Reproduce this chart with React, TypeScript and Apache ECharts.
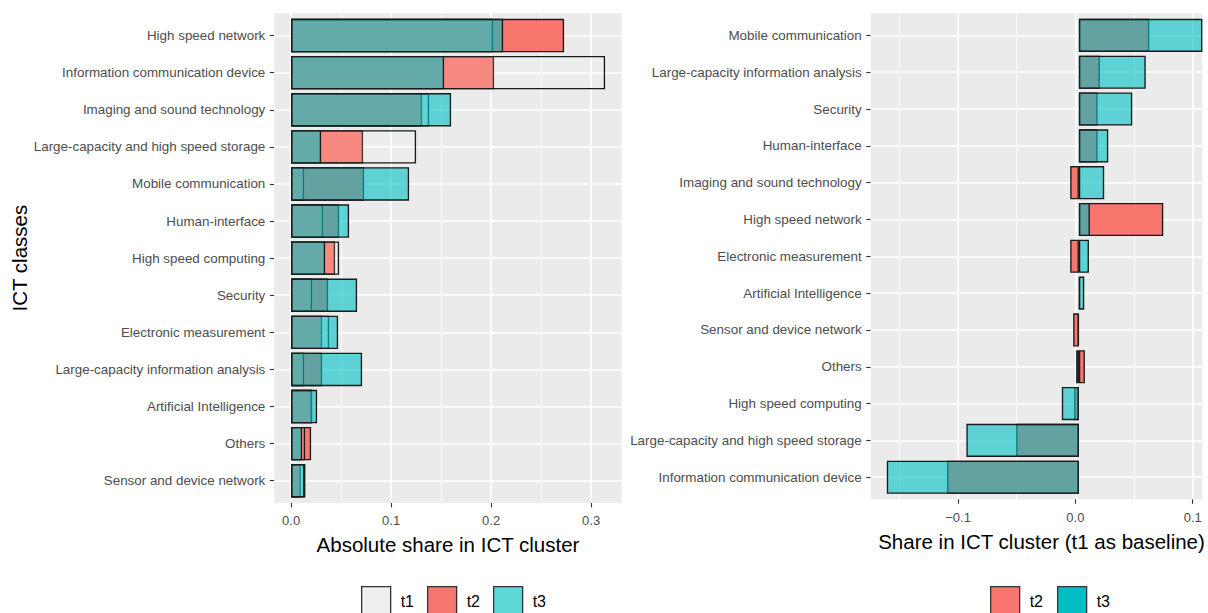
import React, { useEffect, useRef } from "react";
import * as echarts from "echarts";

// ---------- data ----------
const leftCategories = [
  "High speed network",
  "Information communication device",
  "Imaging and sound technology",
  "Large-capacity and high speed storage",
  "Mobile communication",
  "Human-interface",
  "High speed computing",
  "Security",
  "Electronic measurement",
  "Large-capacity information analysis",
  "Artificial Intelligence",
  "Others",
  "Sensor and device network",
];
const leftT1 = [0.202, 0.314, 0.138, 0.125, 0.013, 0.032, 0.048, 0.021, 0.038, 0.013, 0.021, 0.014, 0.0143];
const leftT2 = [0.273, 0.203, 0.131, 0.072, 0.073, 0.048, 0.044, 0.037, 0.031, 0.031, 0.021, 0.020, 0.0097];
const leftT3 = [0.212, 0.153, 0.160, 0.030, 0.118, 0.058, 0.034, 0.066, 0.047, 0.071, 0.026, 0.011, 0.0133];

const rightCategories = [
  "Mobile communication",
  "Large-capacity information analysis",
  "Security",
  "Human-interface",
  "Imaging and sound technology",
  "High speed network",
  "Electronic measurement",
  "Artificial Intelligence",
  "Sensor and device network",
  "Others",
  "High speed computing",
  "Large-capacity and high speed storage",
  "Information communication device",
];
const rightT2 = [0.059, 0.0176, 0.0157, 0.0157, -0.0073, 0.0707, -0.0073, 0.0007, -0.0048, 0.005, -0.004, -0.0526, -0.1105];
const rightT3 = [0.1035, 0.056, 0.0447, 0.0246, 0.0212, 0.0092, 0.0084, 0.0045, -0.0008, -0.0023, -0.0143, -0.0943, -0.161];

const leftTicks = [0, 0.1, 0.2, 0.3];
const rightTicks = [-0.1, 0, 0.1];
const leftXTitle = "Absolute share in ICT cluster";
const rightXTitle = "Share in ICT cluster (t1 as baseline)";
const yTitle = "ICT classes";
const leftLegend = ["t1", "t2", "t3"];
const rightLegend = ["t2", "t3"];

// ---------- styles ----------
const FONT = "'Liberation Sans', Arial, sans-serif";
const RED = "#F8766D";
const CYAN_A = "rgba(0,191,196,0.6)";
const T1_FILL = "rgba(250,255,255,0.14)";
const BORDER = "#1A1A1A";
const PANEL_BG = "#EBEBEB";
const LABEL_GREY = "#4D4D4D";
const TICK_GREY = "#333333";

const fmt = (v: number) => {
  const s = Math.abs(v).toFixed(1);
  return v < -1e-9 ? "\u2212" + s : s;
};

export default function App() {
  const ref = useRef<HTMLDivElement>(null);

  useEffect(() => {
    if (!ref.current) return;
    const chart = echarts.init(ref.current, undefined, { renderer: "svg" });

    // panel geometry (ggplot-like discrete expansion of 0.6 on each side)
    const top = 13.3;
    const Lx = 274.3, Lw = 347.4, Lb = 503.0;
    const Rx = 870.7, Rw = 1208 - 870.7, Rb = 499.3;
    const Lband = (Lb - top) / 13.2;
    const Rband = (Rb - top) / 13.2;
    const Lmin = -0.0168, Lmax = 0.3306;
    const Rmin = -0.1745, Rmax = 0.1082;

    const bgX = (
      min: number, max: number, ticks: number[], name: string, gap: number,
      labelMargin: number, namePad: number[], gridIndex: number
    ) => ({
      type: "value",
      gridIndex,
      min,
      max,
      splitNumber: 3,
      name,
      nameLocation: "middle",
      nameGap: gap,
      nameTextStyle: { fontSize: 20.5, color: "#000", fontFamily: FONT, padding: namePad },
      axisLine: { show: false, onZero: false },
      axisTick: { show: true, length: 4.5, lineStyle: { color: TICK_GREY, width: 1.1 }, customValues: ticks },
      axisLabel: {
        show: true, fontSize: 13, color: LABEL_GREY, margin: labelMargin, fontFamily: FONT,
        customValues: ticks, formatter: (v: number) => fmt(v),
      },
      splitLine: { show: true, lineStyle: { color: "#FFFFFF", width: 1.5 } },
      minorTick: { show: false, splitNumber: 2 },
      minorSplitLine: { show: true, lineStyle: { color: "#FFFFFF", width: 0.75 } },
    });
    const bgY = (gridIndex: number) => ({
      type: "value",
      gridIndex,
      min: 0,
      max: 13.2,
      show: false,
      axisLine: { show: false, onZero: false },
      splitLine: { show: false },
    });
    const hiddenX = (min: number, max: number, gridIndex: number) => ({
      type: "value",
      gridIndex,
      min,
      max,
      show: false,
      axisLine: { onZero: false },
      splitLine: { show: false },
    });
    const catY = (cats: string[], gridIndex: number, withName: boolean) => ({
      type: "category",
      gridIndex,
      data: cats,
      inverse: true,
      name: withName ? yTitle : "",
      nameLocation: "middle",
      nameRotate: 90,
      nameGap: 242,
      nameTextStyle: { fontSize: 20.5, color: "#000", fontFamily: FONT },
      axisLine: { show: false, onZero: false },
      axisTick: { show: true, alignWithLabel: true, length: 4.5, lineStyle: { color: TICK_GREY, width: 1.1 } },
      axisLabel: { fontSize: 13.4, color: LABEL_GREY, margin: 9, fontFamily: FONT, interval: 0, padding: [4, 0, 0, 0] },
      splitLine: { show: false },
    });

    const gridLines = (cats: string[]) => ({
      silent: true,
      symbol: "none",
      z: 1,
      label: { show: false },
      emphasis: { disabled: true },
      lineStyle: { color: "#FFFFFF", width: 1.5, type: "solid" },
      data: cats.map((c) => ({ yAxis: c })),
    });

    const bar = (name: string, data: number[], color: string, xi: number, yi: number, extra: any = {}) => ({
      type: "bar",
      name,
      xAxisIndex: xi,
      yAxisIndex: yi,
      data,
      barWidth: "90%",
      barGap: "-100%",
      itemStyle: { color, borderColor: BORDER, borderWidth: 1.35 },
      emphasis: { disabled: true },
      z: 2,
      ...extra,
    });

    const legendStyle = {
      icon: "rect",
      top: 586,
      padding: 0,
      itemWidth: 29,
      itemHeight: 29,
      selectedMode: false,
      textStyle: { fontSize: 16, color: "#000", fontFamily: FONT, padding: [0, 0, 0, 5] },
    };
    const keyStyle = (color: string) => ({ color, borderColor: "#333333", borderWidth: 1.3 });

    chart.setOption({
      animation: false,
      textStyle: { fontFamily: FONT },
      grid: [
        { left: Lx, top, width: Lw, height: Lb - top, show: true, backgroundColor: PANEL_BG, borderWidth: 0 },
        { left: Lx, top: top + 0.1 * Lband, width: Lw, height: 13 * Lband, show: false },
        { left: Rx, top, width: Rw, height: Rb - top, show: true, backgroundColor: PANEL_BG, borderWidth: 0 },
        { left: Rx, top: top + 0.1 * Rband, width: Rw, height: 13 * Rband, show: false },
      ],
      xAxis: [
        bgX(Lmin, Lmax, leftTicks, leftXTitle, 31, 11, [0, 0, 0, 0], 0),
        hiddenX(Lmin, Lmax, 1),
        bgX(Rmin, Rmax, rightTicks, rightXTitle, 32, 12, [0, 0, 0, 10], 2),
        hiddenX(Rmin, Rmax, 3),
      ],
      yAxis: [bgY(0), catY(leftCategories, 1, true), bgY(2), catY(rightCategories, 3, false)],
      legend: [
        {
          ...legendStyle,
          left: 361,
          itemGap: 13,
          data: [
            { name: leftLegend[0], itemStyle: keyStyle("#EDEFEF") },
            { name: leftLegend[1], itemStyle: keyStyle("#F7766F") },
            { name: leftLegend[2], itemStyle: keyStyle("#5ED7D9") },
          ],
        },
        {
          ...legendStyle,
          left: 990,
          itemGap: 14,
          data: [
            { name: rightLegend[0], itemStyle: keyStyle(RED) },
            { name: rightLegend[1], itemStyle: keyStyle("#00BFC4") },
          ],
        },
      ],
      series: [
        bar("t2", leftT2, RED, 1, 1, { markLine: gridLines(leftCategories) }),
        bar("t1", leftT1, T1_FILL, 1, 1),
        bar("t3", leftT3, CYAN_A, 1, 1),
        bar("t2", rightT2, RED, 3, 3, { markLine: gridLines(rightCategories) }),
        bar("t3", rightT3, CYAN_A, 3, 3),
      ],
    });

    return () => chart.dispose();
  }, []);

  return (
    <div
      ref={ref}
      style={{ position: "absolute", left: 0, top: 0, width: 1208, height: 613, background: "#fff" }}
    />
  );
}
